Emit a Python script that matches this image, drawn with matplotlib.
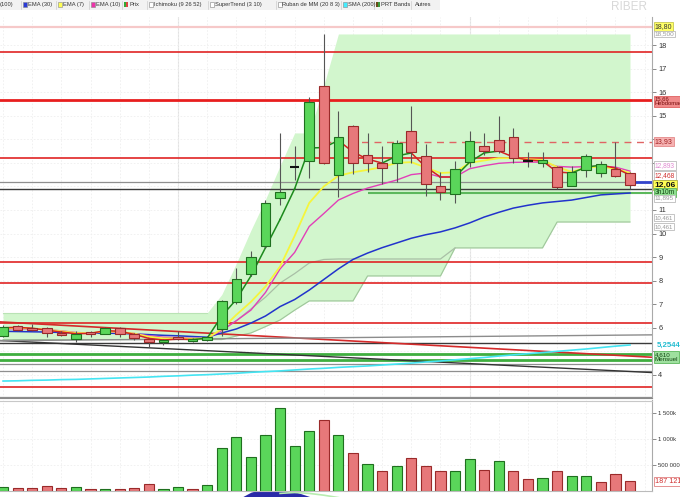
import matplotlib
matplotlib.use('Agg')
import matplotlib.pyplot as plt
from matplotlib.patches import Rectangle

plt.rcParams['font.family'] = ['Liberation Sans', 'DejaVu Sans']

W, H = 680, 497

# weekly candles, oldest first
opens = [5.65, 6.07, 6.00, 6.00, 5.78, 5.53, 5.80, 5.75, 6.00, 5.74, 5.53, 5.40, 5.60, 5.45, 5.50,
         5.95, 7.10, 8.28, 9.47, 11.50, 12.82, 13.08, 16.26, 12.48, 14.56, 13.33, 13.00, 12.99, 14.36,
         13.29, 12.00, 11.68, 13.04, 13.70, 13.97, 14.10, 13.08, 12.99, 12.82, 12.00, 12.70, 12.57, 12.74, 12.57]
closes = [6.03, 5.90, 5.90, 5.78, 5.70, 5.74, 5.75, 6.00, 5.75, 5.57, 5.40, 5.48, 5.53, 5.53, 5.60,
          7.14, 8.07, 9.00, 11.30, 11.76, 12.82, 15.58, 12.99, 14.10, 12.99, 12.99, 12.78, 13.84, 13.46,
          12.10, 11.76, 12.74, 13.93, 13.50, 13.50, 13.20, 13.08, 13.12, 11.98, 12.61, 13.29, 12.95, 12.44, 12.06]
highs = [6.10, 6.12, 6.15, 6.05, 5.85, 5.85, 5.85, 6.05, 6.05, 5.78, 5.56, 5.50, 5.85, 5.58, 5.65,
         7.20, 8.54, 9.26, 11.42, 14.27, 13.70, 15.80, 18.47, 15.20, 14.60, 14.27, 13.70, 13.95, 15.40,
         13.80, 12.60, 13.08, 14.36, 14.27, 14.99, 14.48, 13.46, 13.46, 12.85, 12.86, 13.38, 13.08, 13.88, 12.60]
lows = [5.60, 5.88, 5.85, 5.60, 5.65, 5.38, 5.60, 5.72, 5.60, 5.50, 5.20, 5.25, 5.48, 5.40, 5.45,
        5.65, 7.00, 8.20, 9.40, 11.20, 12.27, 12.36, 12.95, 11.55, 12.53, 12.60, 12.10, 12.20, 13.00,
        11.60, 11.42, 11.30, 12.82, 13.33, 13.40, 12.99, 12.82, 12.82, 11.90, 12.00, 12.40, 12.40, 12.40, 11.90]

volumes_k = [84, 58, 65, 104, 65, 78, 45, 32, 45, 65, 143, 45, 78, 45, 110,
             825, 1032, 662, 1084, 1591, 857, 1149, 1357, 1071,
             727, 519, 390, 481, 643, 481, 390, 390, 610, 403, 578, 390, 227, 253, 377, 279, 286, 175, 318, 187]
volume_colors = 'grrrrgrgrrrggrg' + 'gggggggrg' + 'rgrgrrrggrgrrgrggrrr'

ema7 = [5.98, 6.00, 5.97, 5.92, 5.85, 5.78, 5.77, 5.85, 5.83, 5.75, 5.62, 5.55, 5.55, 5.53, 5.55,
        5.95, 6.55, 7.10, 7.75, 8.60, 9.90, 11.30, 12.00, 12.45, 12.60, 12.70, 12.82, 13.00, 13.03,
        12.80, 12.57, 12.60, 13.00, 13.10, 13.20, 13.20, 13.15, 13.12, 12.82, 12.62, 12.80, 12.84, 12.75, 12.57]
ema10 = [5.95, 5.96, 5.95, 5.92, 5.87, 5.80, 5.78, 5.83, 5.82, 5.76, 5.66, 5.60, 5.58, 5.55, 5.56,
         5.88, 6.30, 6.75, 7.50, 8.50, 9.20, 10.30, 10.85, 11.42, 11.70, 11.93, 12.10, 12.27, 12.50,
         12.57, 12.40, 12.40, 12.75, 12.88, 12.98, 13.02, 13.03, 13.03, 12.85, 12.82, 12.84, 12.86, 12.82, 12.65]
ema30 = [5.85, 5.84, 5.83, 5.82, 5.80, 5.78, 5.77, 5.77, 5.76, 5.74, 5.71, 5.68, 5.66, 5.63, 5.60,
         5.78, 5.95, 6.20, 6.50, 6.90, 7.20, 7.60, 8.05, 8.50, 8.90, 9.17, 9.40, 9.60, 9.80,
         9.95, 10.07, 10.24, 10.45, 10.70, 10.90, 11.08, 11.20, 11.30, 11.36, 11.42, 11.53, 11.64, 11.68, 11.72]
sma200 = [3.74, 3.75, 3.77, 3.78, 3.80, 3.81, 3.83, 3.85, 3.87, 3.89, 3.91, 3.94, 3.96, 3.99, 4.01,
          4.04, 4.07, 4.11, 4.14, 4.17, 4.21, 4.25, 4.28, 4.32, 4.35, 4.38, 4.42, 4.46, 4.50,
          4.55, 4.59, 4.64, 4.69, 4.74, 4.80, 4.85, 4.90, 4.95, 5.00, 5.05, 5.10, 5.16, 5.22, 5.27]
supertrend = [6.00, 6.02, 5.98, 5.90, 5.82, 5.75, 5.76, 5.88, 5.85, 5.72, 5.55, 5.48, 5.52, 5.50, 5.56,
              6.50, 7.20, 8.20, 9.40, 10.60, 11.90, 13.63, 13.65, 13.95, 13.46, 13.16, 12.99, 13.29, 13.42,
              12.82, 12.40, 12.40, 13.03, 13.42, 13.50, 13.25, 13.12, 13.08, 12.61, 12.57, 12.82, 12.90, 12.78, 12.48]
supertrend_dir = 'rrrrrrrrrrrrrrggggggggggrrrggrrrgggrrrrrggrr'

cloud_top = [6.63, 6.63, 6.63, 6.63, 6.63, 6.63, 6.63, 6.63, 6.63, 6.63, 6.63, 6.63, 6.63, 6.63, 6.63,
             7.41, 8.73, 10.14, 11.45, 12.87, 14.27, 14.27, 16.28, 18.47, 18.47, 18.47, 18.47, 18.47, 18.47,
             18.47, 18.47, 18.47, 18.47, 18.47, 18.47, 18.47, 18.47, 18.47, 18.47, 18.47, 18.47, 18.47, 18.47, 18.47]
cloud_low = [5.50, 5.50, 5.50, 5.50, 5.50, 5.50, 5.50, 5.50, 5.50, 5.50, 5.50, 5.50, 5.50, 5.50, 5.50,
             5.50, 5.65, 5.78, 6.05, 6.33, 6.75, 7.14, 7.14, 7.14, 7.14, 8.20, 8.20, 8.20, 8.20,
             8.20, 8.20, 9.39, 9.39, 9.39, 9.39, 9.39, 9.39, 9.39, 10.49, 10.49, 10.49, 10.49, 10.49, 10.49]
kijun_idx = [15, 16, 17, 18, 19, 20, 21, 22, 23, 24, 25, 26, 27, 28, 29, 30, 31]
kijun = [5.90, 6.30, 6.80, 7.30, 7.90, 8.30, 8.75, 8.90, 8.92, 8.92, 8.92, 8.92, 8.92, 8.92, 8.92, 8.92, 9.39]

# drawn support / resistance lines
red_levels = [17.72, 13.22, 8.80, 7.92, 6.20, 3.47]
weekly_level = 15.65
pink_level = 18.78
dashed_level, dashed_from = 13.90, 22
grey_levels = [12.19, 4.45, 4.15, 3.07]
black_levels = [11.89, 5.37]
green_levels = [4.89, 4.63]
green_short, green_from = 11.73, 25
sloped = [(6.25, 4.75, '#d42a2a', 1.2), (5.46, 4.10, '#333333', 1.0), (5.45, 5.70, '#8c8c8c', 1.0)]
last_marker = 12.19

# second indicator panel, only its top edge is visible
osc_idx = [16, 17, 18, 19, 20, 21, 22]
osc = [-0.5, 0.8, 1.5, 1.5, 0.9, 0.1, -0.6]
sig_idx = [19, 20, 21, 22, 23]
sig = [0.6, 0.75, 0.6, 0.3, -0.1]

GREEN, GREEN_EDGE = '#5ad65a', '#1f6f1f'
RED, RED_EDGE = '#e7787a', '#9a2a2a'
n = len(opens)
xs = list(range(n))
XMIN, XMAX = -0.21, 44.51


def px_axes(x0, y0, x1, y1):
    return fig.add_axes([x0 / W, 1 - y1 / H, (x1 - x0) / W, (y1 - y0) / H])


fig = plt.figure(figsize=(W / 100, H / 100), dpi=100)
fig.patch.set_facecolor('white')

# ---------------- price panel ----------------
ax = px_axes(0, 17, 652, 398)
ax.set_xlim(XMIN, XMAX)
ax.set_ylim(3.02, 19.19)
for s in ['top', 'left', 'bottom']:
    ax.spines[s].set_visible(False)
ax.spines['right'].set_color('#aaaaaa')
ax.spines['right'].set_linewidth(0.8)

ticks = list(range(4, 19))
ax.set_yticks(ticks)
shown = {4, 6, 7, 8, 9, 10, 11, 15, 16, 17, 18}
ax.set_yticklabels([str(t) if t in shown else '' for t in ticks])
ax.yaxis.tick_right()
ax.tick_params(axis='y', length=3, width=0.6, colors='#777777', labelcolor='#333333',
               labelsize=5.3, pad=1.5)
ax.set_xticks(range(0, n + 1, 2))
ax.tick_params(axis='x', length=0, labelbottom=False)
ax.grid(True, color='#efefef', lw=0.6, ls=(0, (2, 2)))
ax.set_axisbelow(True)
for gx in [12, 32]:
    ax.axvline(gx, color='#e2e2e2', lw=0.8, zorder=0)

# ichimoku cloud
ax.fill_between(xs, cloud_low, cloud_top, color='#d2f6cd', lw=0, zorder=1)
ax.plot(xs, cloud_low, color='#9fc59b', lw=0.8, zorder=1.5)
ax.plot(kijun_idx, kijun, color='#a9bfa6', lw=0.9, zorder=1.5)
ax.plot(xs[:15], cloud_top[:15], color='#b9e3b4', lw=0.8, zorder=1.5)

# horizontal levels
ax.axhline(pink_level, color='#f6c9c9', lw=1.6, zorder=2)
for lv in red_levels:
    ax.axhline(lv, color='#e02424', lw=1.2, zorder=2)
ax.axhline(weekly_level, color='#e81e1e', lw=2.0, zorder=2)
ax.hlines(dashed_level, dashed_from, XMAX, color='#e06464', lw=1.0, ls=(0, (5, 4)), zorder=2)
for lv in grey_levels:
    ax.axhline(lv, color='#8f8f8f', lw=0.9, zorder=2)
for lv in black_levels:
    ax.axhline(lv, color='#3a3a3a', lw=1.0, zorder=2)
for lv in green_levels:
    ax.axhline(lv, color='#3fae3f', lw=2.0, zorder=2)
ax.hlines(green_short, green_from, XMAX, color='#5cb85c', lw=1.5, zorder=2)
for p0, p1, col, lw in sloped:
    ax.plot([XMIN, XMAX], [p0, p1], color=col, lw=lw, zorder=2)

# moving averages
ax.plot(xs, sma200, color='#44e4f2', lw=1.2, zorder=3)
ax.plot(xs, ema30, color='#2233cc', lw=1.1, zorder=3)
ax.plot(xs, ema10, color='#e23fb8', lw=1.0, zorder=3)
ax.plot(xs, ema7, color='#f5f53c', lw=1.3, zorder=3)
for i in range(1, n):
    col = '#1c8a1c' if supertrend_dir[i] == 'g' else '#d42222'
    ax.plot([i - 1, i], [supertrend[i - 1], supertrend[i]], color=col, lw=1.1, zorder=3.5)
ax.hlines(last_marker, n - 1 + 0.1, XMAX, color='#3344cc', lw=2.0, zorder=3)

# candles
for i in xs:
    o, c = opens[i], closes[i]
    ax.vlines(i, lows[i], highs[i], color='#555555', lw=0.8, zorder=4)
    if abs(c - o) < 0.02:
        ax.hlines(o, i - 0.33, i + 0.33, color='#111111', lw=1.5, zorder=5)
        continue
    up = c > o
    ax.add_patch(Rectangle((i - 0.33, min(o, c)), 0.66, abs(c - o),
                           fc=GREEN if up else RED, ec=GREEN_EDGE if up else RED_EDGE,
                           lw=0.8, zorder=5))

# value boxes on the price scale
tr = ax.get_yaxis_transform()


def tag(v, s, fc='white', ec='#bbbbbb', color='#333333', size=4.8, weight='normal'):
    ax.text(1.004, v, s, transform=tr, ha='left', va='center', fontsize=size, color=color,
            fontweight=weight, clip_on=False, zorder=10, linespacing=0.95,
            bbox=dict(boxstyle='square,pad=0.15', fc=fc, ec=ec, lw=0.6))


tag(18.78, '18,80', fc='#ffff66', ec='#c8c850', size=5.0)
tag(18.47, '18,500', color='#999999', size=4.6)
tag(15.60, '15,66\nHebdomadaire', fc='#f08a8a', ec='#e06060', color='#7a1010', size=4.2)
tag(13.90, '13,93', fc='#f6b2b2', ec='#e48a8a', color='#a02020', size=5.0)
tag(12.90, '12,893', color='#e08ad0')
tag(12.48, '12,468', color='#d03030')
tag(12.06, '12,06', fc='#ffff55', ec='#b0b040', color='#111111', size=6.0, weight='bold')
tag(11.76, '3h10m', fc='#8fe08f', ec='#5cb85c', color='#114411')
tag(11.50, '11,895', color='#999999', size=4.6)
tag(10.68, '10,461', color='#999999', size=4.3)
tag(10.30, '10,461', color='#999999', size=4.3)
ax.text(1.008, 5.27, '5,2544', transform=tr, ha='left', va='center', fontsize=5.6,
        color='#22bcd0', fontweight='bold', clip_on=False, zorder=10)
tag(4.76, '4,610\nMensuel', fc='#9fe09f', ec='#5cb85c', color='#114411', size=4.5)

# ---------------- volume panel ----------------
axv = px_axes(0, 400, 652, 491)
axv.set_xlim(XMIN, XMAX)
axv.set_ylim(0, 1750)
for s in ['top', 'left', 'bottom']:
    axv.spines[s].set_visible(False)
axv.spines['right'].set_color('#aaaaaa')
axv.spines['right'].set_linewidth(0.8)
for i, v in enumerate(volumes_k):
    up = volume_colors[i] == 'g'
    axv.bar(i, v, width=0.7, color=GREEN if up else RED,
            edgecolor=GREEN_EDGE if up else RED_EDGE, lw=0.8, zorder=3)
axv.set_yticks([500, 1000, 1500])
axv.set_yticklabels(['500 000', '1 000k', '1 500k'])
axv.yaxis.tick_right()
axv.tick_params(axis='y', length=3, width=0.6, colors='#777777', labelcolor='#333333',
                labelsize=4.3, pad=1.5)
axv.set_xticks(range(0, n + 1, 2))
axv.tick_params(axis='x', length=0, labelbottom=False)
axv.grid(True, color='#efefef', lw=0.6, ls=(0, (2, 2)))
axv.set_axisbelow(True)
axv.text(1.004, volumes_k[-1], '187 121', transform=axv.get_yaxis_transform(), ha='left',
         va='center', fontsize=5.2, color='#d03030', clip_on=False, zorder=10,
         bbox=dict(boxstyle='square,pad=0.15', fc='white', ec='#e08080', lw=0.6))

# ---------------- next indicator (cut off) ----------------
axo = px_axes(0, 491, 652, 497)
axo.set_xlim(XMIN, XMAX)
axo.set_ylim(0, 1)
axo.axis('off')
axo.fill_between(osc_idx, -5, osc, color='#2a2aa8', lw=0)
axo.plot(sig_idx, sig, color='#b8ecb0', lw=1.2)

# ---------------- overlay: legend bar, separators, watermark ----------------
ov = fig.add_axes([0, 0, 1, 1])
ov.set_xlim(0, W)
ov.set_ylim(H, 0)
ov.axis('off')

ov.plot([0, 652], [398, 398], color='#8a8a8a', lw=0.8)
ov.plot([0, 652], [400.5, 400.5], color='#c8c8c8', lw=0.8)
ov.plot([0, 652], [491, 491], color='#bbbbbb', lw=0.8)
ov.text(629, 7, 'RIBER', ha='center', va='center', fontsize=8.5, color='#d8d8d8')

ov.add_patch(Rectangle((0, 0), 440, 9.5, fc='#f2f2f2', ec='none'))
legend_labels = ['(100)', 'EMA (30)', 'EMA (7)', 'EMA (10)', 'Prix', 'Ichimoku (9 26 52)',
                 'SuperTrend (3 10)', 'Ruban de MM (20 8 3)', 'SMA (200)', 'PRT Bands', 'Autres']
legend_swatch = [None, '#2b3bd6', '#ffff55', '#ee33aa', 'prix', 'box', 'box', 'box',
                 '#44eeff', 'bands', None]
legend_x = [-2, 23, 58, 90.5, 124, 148.5, 210, 277.5, 343, 376, 413]
for lab, sw, lx in zip(legend_labels, legend_swatch, legend_x):
    tx = lx + 5
    if sw is None:
        tx = lx + 2
    elif sw == 'prix':
        ov.add_patch(Rectangle((lx, 2), 2.2, 5, fc='#33aa33', ec='none'))
        ov.add_patch(Rectangle((lx + 2.2, 2), 2.2, 5, fc='#dd4444', ec='none'))
    elif sw == 'box':
        ov.add_patch(Rectangle((lx, 2), 4.4, 5, fc='white', ec='#999999', lw=0.5))
    elif sw == 'bands':
        ov.add_patch(Rectangle((lx, 2), 2.2, 5, fc='#6b4a1a', ec='none'))
        ov.add_patch(Rectangle((lx + 2.2, 2), 2.2, 5, fc='#3a9a3a', ec='none'))
    else:
        ov.add_patch(Rectangle((lx, 2), 4.4, 5, fc=sw, ec='#888888', lw=0.4))
    ov.text(tx, 4.6, lab, ha='left', va='center', fontsize=4.15, color='#333333')
    if lx > 0:
        ov.plot([lx - 1.8, lx - 1.8], [0.5, 8.5], color='#cccccc', lw=0.5)

fig.savefig('out.png', dpi=100)
